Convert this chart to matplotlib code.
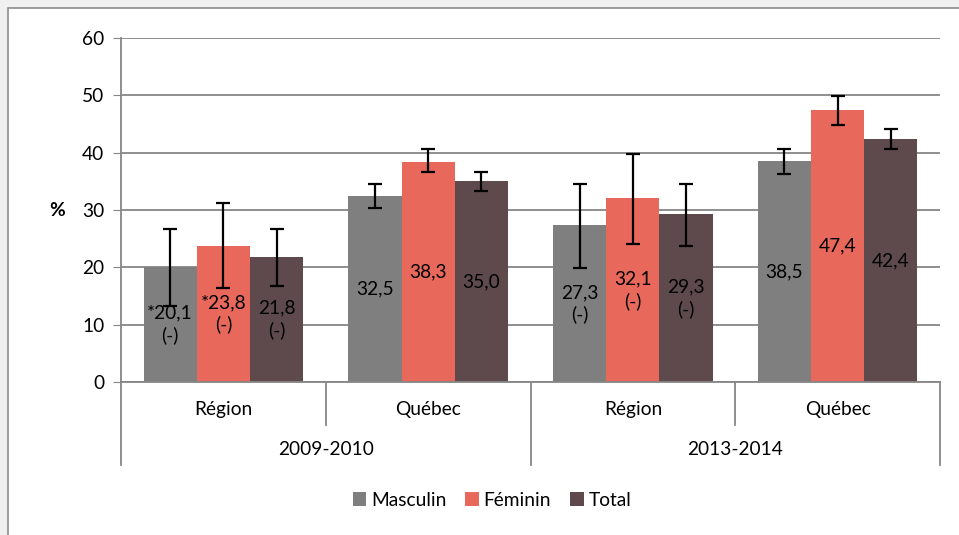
import numpy as np
import matplotlib.pyplot as plt
from matplotlib.patches import Rectangle
from matplotlib.transforms import blended_transform_factory

plt.rcParams['font.family'] = ['Lato', 'DejaVu Sans']

# données
places = ['Région', 'Québec', 'Région', 'Québec']
periods = ['2009-2010', '2013-2014']
series = ['Masculin', 'Féminin', 'Total']
masculin = [20.1, 32.5, 27.3, 38.5]
feminin = [23.8, 38.3, 32.1, 47.4]
total = [21.8, 35.0, 29.3, 42.4]
# bornes des intervalles de confiance (basse, haute)
masculin_ic = [(13.3, 26.7), (30.4, 34.5), (19.8, 34.6), (36.2, 40.6)]
feminin_ic = [(16.4, 31.2), (36.6, 40.6), (24.1, 39.8), (44.9, 49.9)]
total_ic = [(16.8, 26.7), (33.4, 36.6), (23.8, 34.6), (40.6, 44.1)]
labels = [
    ['*20,1\n(-)', '32,5', '27,3\n(-)', '38,5'],
    ['*23,8\n(-)', '38,3', '32,1\n(-)', '47,4'],
    ['21,8\n(-)', '35,0', '29,3\n(-)', '42,4'],
]
colors = ['#7f7f7f', '#e8695b', '#5e4a4c']

fig = plt.figure(figsize=(9.59, 5.35), dpi=100)
fig.patch.set_facecolor('#f0f0f0')
fig.patches.append(Rectangle((8/959, -0.1), 1.2, 1 - 8/535 + 0.1, transform=fig.transFigure,
                             facecolor='white', edgecolor='#8c8c8c', lw=1.2, zorder=-5))

ax = fig.add_axes([121/959, 1 - 382/535, (940 - 121)/959, 344/535])
ax.set_facecolor('none')

fs = 13.8
x = np.arange(len(places))
w = 0.26
grey = '#868686'
for i, (vals, ic) in enumerate(zip([masculin, feminin, total], [masculin_ic, feminin_ic, total_ic])):
    pos = x + (i - 1) * w
    vals = np.array(vals)
    lo = vals - np.array([a for a, b in ic])
    hi = np.array([b for a, b in ic]) - vals
    ax.bar(pos, vals, width=w, color=colors[i], label=series[i], zorder=2)
    ax.errorbar(pos, vals, yerr=[lo, hi], fmt='none', ecolor='black', elinewidth=1.6,
                capsize=5, capthick=1.6, zorder=3)
    for p, v, t in zip(pos, vals, labels[i]):
        ax.text(p, v / 2, t, ha='center', va='center', fontsize=fs, linespacing=1.3,
                color='black', zorder=4)

ax.set_xlim(-0.5, 3.5)
ax.set_ylim(0, 60)
ax.set_yticks(range(0, 61, 10))
ax.tick_params(axis='y', length=6, color=grey, labelsize=fs, pad=6)
ax.tick_params(axis='x', length=0, labelbottom=False)
ax.grid(axis='y', color=grey, lw=1.3, zorder=1)
ax.set_axisbelow(True)
for s in ['top', 'right']:
    ax.spines[s].set_visible(False)
for s in ['left', 'bottom']:
    ax.spines[s].set_color(grey)
    ax.spines[s].set_linewidth(1.3)

ax.text(-0.078, 0.5, '%', transform=ax.transAxes, fontsize=fs, fontweight='bold',
        ha='center', va='center')

# axe des catégories à deux niveaux
tr = blended_transform_factory(ax.transData, ax.transAxes)
for xs in [-0.5, 1.5, 3.5]:
    ax.plot([xs, xs], [0, -0.241], transform=tr, color=grey, lw=1.3, clip_on=False)
for xs in [0.5, 2.5]:
    ax.plot([xs, xs], [0, -0.125], transform=tr, color=grey, lw=1.3, clip_on=False)
for xi, name in zip(x, places):
    ax.text(xi, -0.08, name, transform=tr, ha='center', va='center', fontsize=fs)
for k, name in enumerate(periods):
    ax.text(2 * k + 0.5, -0.197, name, transform=tr, ha='center', va='center', fontsize=fs)

fig.legend(loc='center', bbox_to_anchor=(492/959, 1 - 500/535), ncol=3, frameon=False,
           fontsize=fs, handlelength=0.7, handleheight=0.7, handletextpad=0.25,
           columnspacing=1.0)

fig.savefig('out.png', dpi=100, facecolor=fig.get_facecolor())
